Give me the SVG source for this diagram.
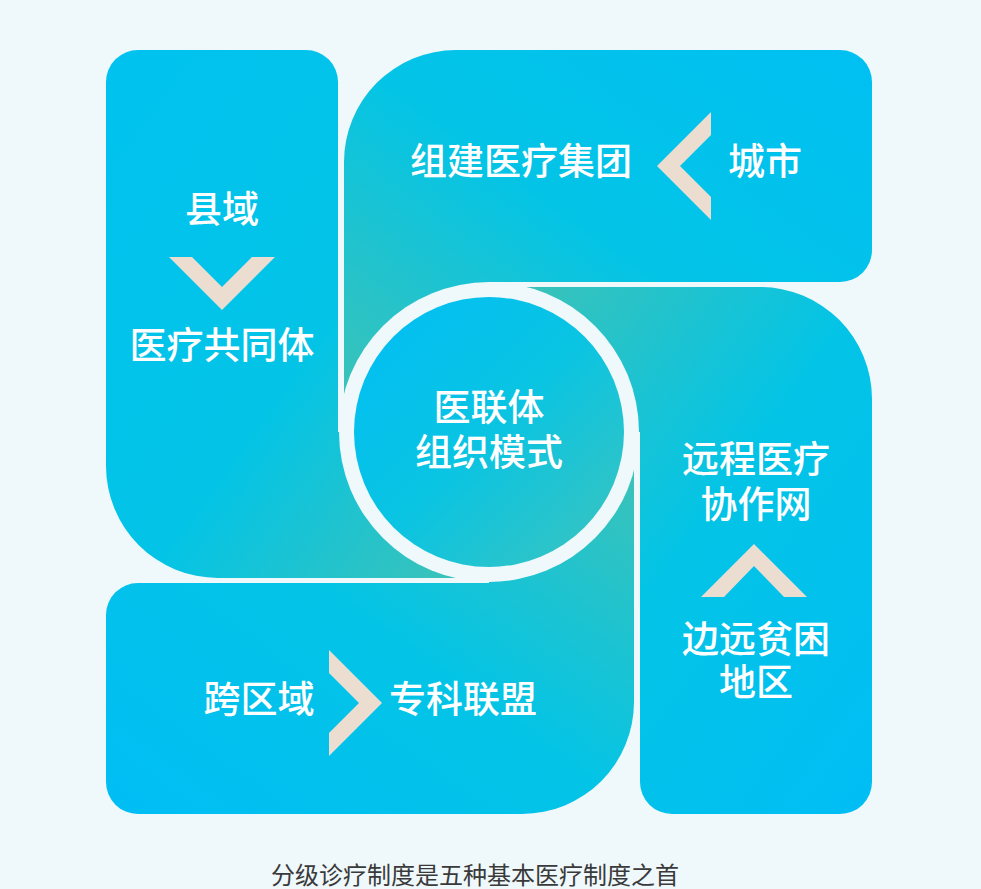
<svg xmlns="http://www.w3.org/2000/svg" width="981" height="889" viewBox="0 0 981 889">
  <style>
    .lbl { font-family: "Noto Sans CJK SC", "Noto Sans", sans-serif; font-size: 37px; font-weight: 500; fill: #FFFFFF; text-anchor: middle; }
    .cap { font-family: "Noto Sans CJK SC", "Noto Sans", sans-serif; font-size: 24px; fill: #3A3A3A; text-anchor: middle; }
    .chevron { fill: #EBDDD0; }
    .gap { fill: #EFF8FB; }
  </style>
  <defs>
    <linearGradient id="gLeft" x1="0" y1="0" x2="1" y2="1">
      <stop offset="0" stop-color="#00C2F0"/>
      <stop offset="0.55" stop-color="#03C4E6"/>
      <stop offset="1" stop-color="#40C2B4"/>
    </linearGradient>
    <linearGradient id="gTop" x1="1" y1="0" x2="0" y2="1">
      <stop offset="0" stop-color="#00C0F3"/>
      <stop offset="0.5" stop-color="#03C4E6"/>
      <stop offset="1" stop-color="#40C2B4"/>
    </linearGradient>
    <linearGradient id="gRight" x1="1" y1="1" x2="0" y2="0">
      <stop offset="0" stop-color="#00BEF5"/>
      <stop offset="0.5" stop-color="#03C4E6"/>
      <stop offset="1" stop-color="#40C2B4"/>
    </linearGradient>
    <linearGradient id="gBottom" x1="0" y1="1" x2="1" y2="0">
      <stop offset="0" stop-color="#00BEF5"/>
      <stop offset="0.5" stop-color="#03C4E6"/>
      <stop offset="1" stop-color="#40C2B4"/>
    </linearGradient>
    <linearGradient id="gCircle" x1="0" y1="0" x2="1" y2="1">
      <stop offset="0" stop-color="#00BEF6"/>
      <stop offset="0.5" stop-color="#0AC4E2"/>
      <stop offset="1" stop-color="#3DC4BD"/>
    </linearGradient>
  </defs>

  <rect x="0" y="0" width="981" height="889" fill="#EFF8FB"/>

  <g id="node-county">
    <path fill="url(#gLeft)" d="M138,50 L306,50 A32,32 0 0 1 338,82 L338,432 L489,432 L489,578 L218,578 A112,112 0 0 1 106,466 L106,82 A32,32 0 0 1 138,50 Z"/>
    <text class="lbl" x="222" y="223">县域</text>
    <text class="lbl" x="222" y="359">医疗共同体</text>
  </g>

  <g id="node-city">
    <path fill="url(#gTop)" d="M344,432 L344,162 A112,112 0 0 1 456,50 L840,50 A32,32 0 0 1 872,82 L872,250 A32,32 0 0 1 840,282 L489,282 L489,432 Z"/>
    <text class="lbl" x="521" y="175">组建医疗集团</text>
    <text class="lbl" x="765" y="175">城市</text>
  </g>

  <g id="node-remote">
    <path fill="url(#gRight)" d="M489,287 L760,287 A112,112 0 0 1 872,399 L872,782 A32,32 0 0 1 840,814 L672,814 A32,32 0 0 1 640,782 L640,432 L489,432 Z"/>
    <text class="lbl" x="756" y="473">远程医疗</text>
    <text class="lbl" x="756" y="518">协作网</text>
    <text class="lbl" x="756" y="653">边远贫困</text>
    <text class="lbl" x="756" y="696">地区</text>
  </g>

  <g id="node-region">
    <path fill="url(#gBottom)" d="M634,432 L634,702 A112,112 0 0 1 522,814 L138,814 A32,32 0 0 1 106,782 L106,615 A32,32 0 0 1 138,583 L489,583 L489,432 Z"/>
    <text class="lbl" x="259" y="713">跨区域</text>
    <text class="lbl" x="463" y="713">专科联盟</text>
  </g>

  <g id="node-center">
    <circle class="gap" cx="489" cy="432" r="150"/>
    <circle cx="489" cy="432" r="135" fill="url(#gCircle)"/>
    <text class="lbl" x="489" y="421">医联体</text>
    <text class="lbl" x="489" y="466">组织模式</text>
  </g>

  <g id="connectors">
    <polygon class="chevron" points="169,257 192,257 222,287 252,257 275,257 222,310"/>
    <polygon class="chevron" points="711,112 711,135 680,166 711,197 711,220 657,166"/>
    <polygon class="chevron" points="329,650 329,673 359,703 329,733 329,756 382,703"/>
    <polygon class="chevron" points="701,597 724,597 754,566 784,597 807,597 754,544"/>
  </g>

  <g id="caption">
    <text class="cap" x="475" y="884">分级诊疗制度是五种基本医疗制度之首</text>
  </g>
</svg>
